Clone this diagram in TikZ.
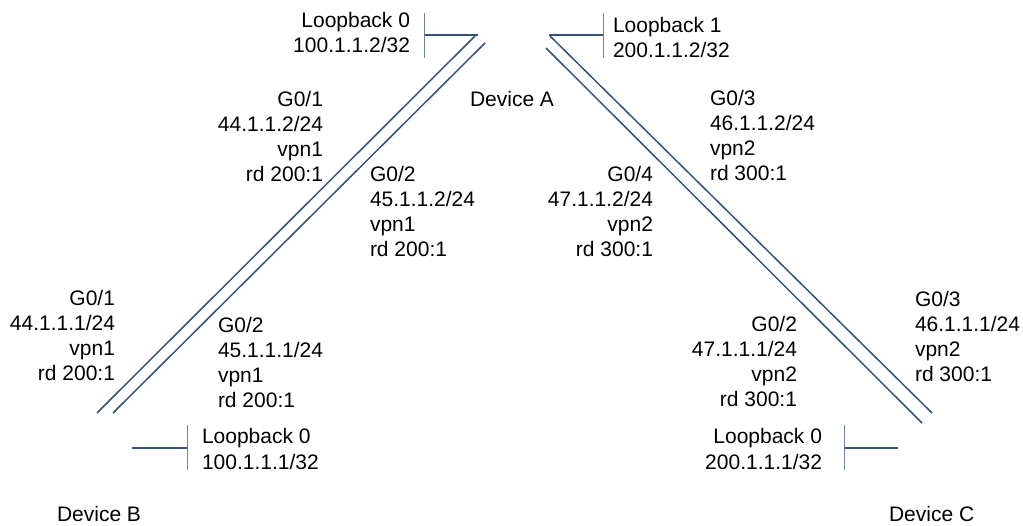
\documentclass[tikz,border=0pt]{standalone}
\usepackage{fontspec}
\setmainfont{Liberation Sans}
\definecolor{linkblue}{RGB}{50,82,128}
\definecolor{tickblue}{RGB}{110,132,168}
% right- and left-aligned label stacks whose baseline is the first line
\newcommand{\rstack}[1]{\begin{tabular}[t]{@{}r@{}}#1\end{tabular}}
\newcommand{\lstack}[1]{\begin{tabular}[t]{@{}l@{}}#1\end{tabular}}
\begin{document}
\begin{tikzpicture}[x=1pt,y=-1pt,
  every node/.style={inner sep=0pt,outer sep=0pt,font=\fontsize{21}{25}\selectfont},
  lbr/.style={anchor=base east},
  lbl/.style={anchor=base west},
  link/.style={draw=linkblue,line width=1.5pt},
  lbstub/.style={draw=linkblue,line width=2pt},
  lbtick/.style={draw=tickblue,line width=1pt}]
\useasboundingbox (0,0) rectangle (1023,526);

% device names
\node[lbl] (devA) at (470,107) {Device A};
\node[lbl] (devB) at (57,521) {Device B};
\node[lbl] (devC) at (889,521) {Device C};

% link end points
\coordinate (aB1) at (475,36);  \coordinate (bA1) at (97,413);
\coordinate (aB2) at (485,43);  \coordinate (bA2) at (113,413);
\coordinate (aC1) at (550,36);  \coordinate (cA1) at (932,413);
\coordinate (aC2) at (546,48);  \coordinate (cA2) at (922,423);

% the four links
\draw[link] (aB1) -- (bA1);
\draw[link] (aB2) -- (bA2);
\draw[link] (aC1) -- (cA1);
\draw[link] (aC2) -- (cA2);

% loopback interfaces
\coordinate (lbA0s) at (478,35); \coordinate (lbA0t) at (424,35);
\draw[lbstub] (lbA0s) -- (lbA0t);
\draw[lbtick] (424,13) -- (424,58);
\coordinate (lbA1s) at (549,35); \coordinate (lbA1t) at (603,35);
\draw[lbstub] (lbA1s) -- (lbA1t);
\draw[lbtick] (603,13) -- (603,58);
\coordinate (lbB0s) at (132,448); \coordinate (lbB0t) at (187,448);
\draw[lbstub] (lbB0s) -- (lbB0t);
\draw[lbtick] (187,425) -- (187,470);
\coordinate (lbC0s) at (898,448); \coordinate (lbC0t) at (844,448);
\draw[lbstub] (lbC0s) -- (lbC0t);
\draw[lbtick] (844,425) -- (844,470);

% loopback labels
\node[lbr] (tA0) at (410,28) {\rstack{Loopback 0\\100.1.1.2/32}};
\node[lbl] (tA1) at (613,33) {\lstack{Loopback 1\\200.1.1.2/32}};
\node[lbl] (tB0) at (202,444) {\lstack{Loopback 0\\100.1.1.1/32}};
\node[lbr] (tC0) at (822,444) {\rstack{Loopback 0\\200.1.1.1/32}};

% interface labels on Device A
\node[lbr] (aG01) at (323,107) {\rstack{G0/1\\44.1.1.2/24\\vpn1\\rd 200:1}};
\node[lbl] (aG02) at (370,182) {\lstack{G0/2\\45.1.1.2/24\\vpn1\\rd 200:1}};
\node[lbr] (aG04) at (653,182) {\rstack{G0/4\\47.1.1.2/24\\vpn2\\rd 300:1}};
\node[lbl] (aG03) at (710,106) {\lstack{G0/3\\46.1.1.2/24\\vpn2\\rd 300:1}};

% interface labels on Device B
\node[lbr] (bG01) at (115,306) {\rstack{G0/1\\44.1.1.1/24\\vpn1\\rd 200:1}};
\node[lbl] (bG02) at (218,333) {\lstack{G0/2\\45.1.1.1/24\\vpn1\\rd 200:1}};

% interface labels on Device C
\node[lbr] (cG02) at (797,332) {\rstack{G0/2\\47.1.1.1/24\\vpn2\\rd 300:1}};
\node[lbl] (cG03) at (915,307) {\lstack{G0/3\\46.1.1.1/24\\vpn2\\rd 300:1}};
\end{tikzpicture}
\end{document}
